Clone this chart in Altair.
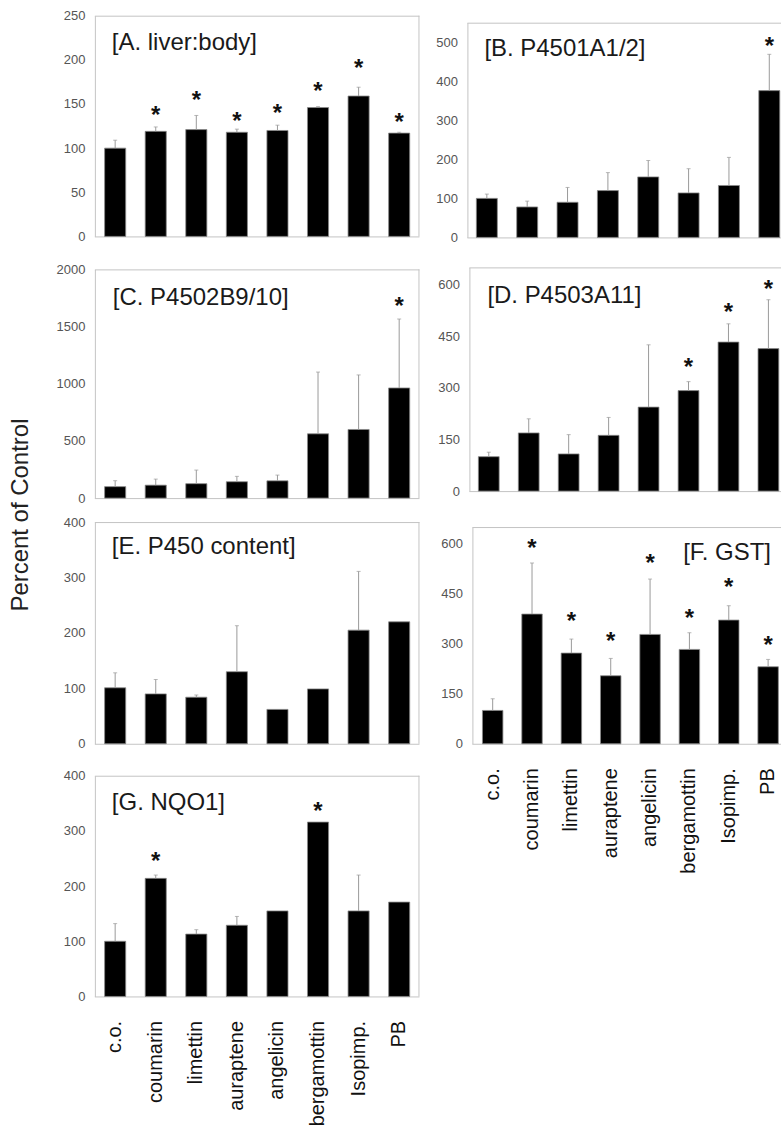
import altair as alt
import pandas as pd

# Treatment groups (x axis)
treatments = ["c.o.", "coumarin", "limettin", "auraptene", "angelicin",
              "bergamottin", "Isopimp.", "PB"]

# Percent of control: mean, upper SD and position of the significance asterisk
liver_mean = [100, 119, 121, 118, 120, 146, 159, 117]
liver_err = [9, 5, 16, 3.5, 6, 1, 10, 1]
liver_star = [None, 144, 161, 137, 147, 172, 198, 136]

cyp1a_mean = [100, 78, 90, 120, 155, 114, 133, 376]
cyp1a_err = [11, 15, 38, 46, 42, 62, 72, 93]
cyp1a_star = [None, None, None, None, None, None, None, 506]

cyp2b_mean = [100, 113, 126, 143, 151, 562, 600, 963]
cyp2b_err = [52, 53, 119, 47, 50, 540, 477, 603]
cyp2b_star = [None, None, None, None, None, None, None, 1732]

cyp3a_mean = [100, 169, 108, 162, 244, 292, 433, 414]
cyp3a_err = [13, 41, 56, 52, 181, 26, 53, 142]
cyp3a_star = [None, None, None, None, None, 378, 538, 606]

p450_mean = [101, 90, 84, 130, 62, 99, 205, 220]
p450_err = [27, 26, 4, 83, 0, 0, 106, 0]
p450_star = [None] * 8

gst_mean = [100, 389, 272, 204, 328, 283, 371, 231]
gst_err = [35, 153, 42, 52, 166, 50, 43, 22]
gst_star = [None, 604, 386, 326, 561, 394, 489, 314]

nqo1_mean = [100, 214, 113, 129, 155, 316, 155, 171]
nqo1_err = [32, 6, 8, 16, 0, 0, 65, 0]
nqo1_star = [None, 256, None, None, None, 347, None, None]

FONT = "Liberation Sans"
FRAME = "#c4c4c4"
one = pd.DataFrame({"k": [0]})


def panel(title, means, errs, stars, ymax, ystep, width, height,
          pad_outer, align, tx, ty, frame_off=0, right_frame=True,
          labels=False):
    df = pd.DataFrame({"treatment": treatments, "mean": means,
                       "err": errs, "star": stars})
    df["top"] = df["mean"] + df["err"]

    xscale = alt.Scale(domain=treatments, paddingInner=0.48,
                       paddingOuter=pad_outer, align=align)
    xaxis = alt.Axis(title=None, ticks=False, domain=False,
                     labels=labels, labelAngle=270, labelAlign="right",
                     labelBaseline="middle", labelFontSize=20,
                     labelColor="#111", labelPadding=24, labelFont=FONT)
    yscale = alt.Scale(domain=[0, ymax], nice=False, zero=True)
    yaxis = alt.Axis(title=None, ticks=False, grid=False, domain=True,
                     domainColor=FRAME, values=list(range(0, ymax + 1, ystep)),
                     format="d", labelFontSize=13, labelColor="#555",
                     labelPadding=10, labelFont=FONT, offset=-frame_off)

    x = alt.X("treatment:N", sort=treatments, scale=xscale, axis=xaxis)
    base = alt.Chart(df)

    bars = base.mark_bar(color="black", stroke="#8a8a8a", strokeWidth=0.8).encode(
        x=x, y=alt.Y("mean:Q", scale=yscale, axis=yaxis))
    err = base.transform_filter("datum.err > 0").mark_rule(
        color="#9a9a9a", strokeWidth=1).encode(
        x=x, y=alt.Y("mean:Q", scale=yscale, axis=yaxis), y2="top:Q")
    cap = base.transform_filter("datum.err > 0").mark_tick(
        color="#9a9a9a", size=4, thickness=1).encode(
        x=x, y=alt.Y("top:Q", scale=yscale, axis=yaxis))
    star = base.transform_filter("isValid(datum.star)").mark_text(
        text="*", fontSize=24, fontWeight="bold", font=FONT, color="#111",
        baseline="alphabetic", dy=14).encode(
        x=x, y=alt.Y("star:Q", scale=yscale, axis=yaxis))
    label = alt.Chart(pd.DataFrame({"t": [title]})).mark_text(
        align="left", baseline="middle", fontSize=24, font=FONT,
        color="#1a1a1a").encode(x=alt.value(tx), y=alt.value(ty), text="t:N")

    # light grey box around the plot area
    top_line = alt.Chart(one).mark_rule(color=FRAME, strokeWidth=1).encode(
        x=alt.value(frame_off), x2=alt.value(width), y=alt.value(0.5))
    bottom_line = alt.Chart(one).mark_rule(color=FRAME, strokeWidth=1).encode(
        x=alt.value(frame_off), x2=alt.value(width), y=alt.value(height + 0.5))
    layers = [top_line, bottom_line]
    if right_frame:
        layers.append(alt.Chart(one).mark_rule(color=FRAME, strokeWidth=1).encode(
            x=alt.value(width - 0.5), y=alt.value(0), y2=alt.value(height)))
    layers += [bars, err, cap, star, label]
    return alt.layer(*layers).properties(width=width, height=height)


def blank(w, h):
    return alt.Chart(one).mark_text(text="").encode(
        x=alt.value(0), y=alt.value(0)).properties(width=w, height=h)


pA = panel("[A. liver:body]", liver_mean, liver_err, liver_star, 250, 50,
           325, 221, 0.24, 0.5, 17, 27)
pC = panel("[C. P4502B9/10]", cyp2b_mean, cyp2b_err, cyp2b_star, 2000, 500,
           325, 229, 0.24, 0.5, 18, 29)
pE = panel("[E. P450 content]", p450_mean, p450_err, p450_star, 400, 100,
           325, 222, 0.24, 0.5, 17, 25)
pG = panel("[G. NQO1]", nqo1_mean, nqo1_err, nqo1_star, 400, 100,
           325, 221, 0.24, 0.5, 17, 27, labels=True)

pB = panel("[B. P4501A1/2]", cyp1a_mean, cyp1a_err, cyp1a_star, 550, 100,
           314, 215, 0.126, 0.88, 17, 26, right_frame=False)
pD = panel("[D. P4503A11]", cyp3a_mean, cyp3a_err, cyp3a_star, 650, 150,
           314, 224, 0.165, 0.833, 20, 29, frame_off=2, right_frame=False)
pF = panel("[F. GST]", gst_mean, gst_err, gst_star, 650, 150,
           314, 217, 0.225, 0.85, 216, 26, frame_off=5, right_frame=False,
           labels=True)

left_col = alt.vconcat(pA, blank(325, 14), pC, blank(325, 3), pE,
                       blank(325, 13), pG, spacing=0)
right_col = alt.vconcat(blank(314, 7), pB, blank(314, 17), pD,
                        blank(314, 23), pF, spacing=0)

y_title = alt.Chart(pd.DataFrame({"t": ["Percent of Control"]})).mark_text(
    angle=270, align="center", baseline="middle", fontSize=24, font=FONT,
    color="#222").encode(x=alt.value(21), y=alt.value(500), text="t:N"
).properties(width=40, height=900)

chart = alt.hconcat(
    y_title,
    alt.hconcat(left_col, right_col, spacing=15),
    spacing=16,
).properties(
    padding={"left": 0, "top": 9, "right": 0, "bottom": 0},
    background="white",
).configure(font=FONT).configure_view(stroke=None)

chart.save("out.html", embed_options={"renderer": "svg", "actions": False})
